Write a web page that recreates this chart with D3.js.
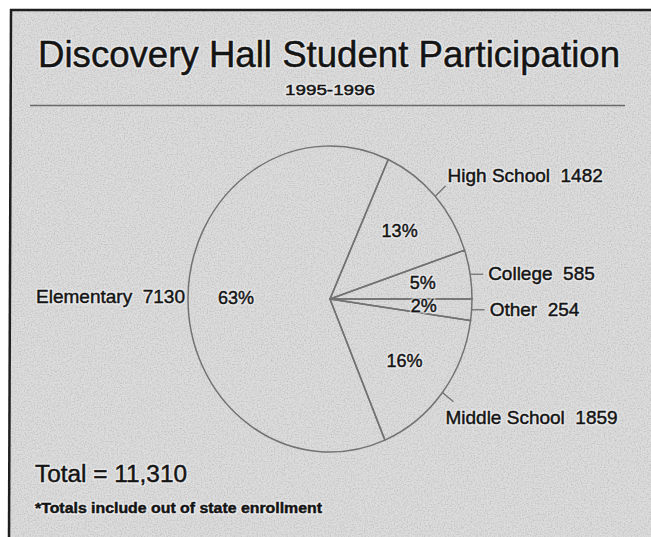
<!DOCTYPE html>
<html>
<head>
<meta charset="utf-8">
<script src="https://cdn.jsdelivr.net/npm/d3@7"></script>
<style>
  html, body { margin: 0; padding: 0; background: #fff; }
  svg { display: block; }
  text { font-family: "Liberation Sans", Arial, Helvetica, sans-serif; }
  .halo { fill: none; stroke: #f4f4f4; stroke-width: 3.5px; stroke-opacity: 0.55; stroke-linejoin: round; }
  .ink { fill: #141414; stroke: #141414; stroke-width: 0.45px; }
</style>
</head>
<body>
<svg id="chart" width="651" height="537"></svg>
<script>
// data
var categories = ["Other", "Middle School", "Elementary", "High School", "College"];
var students   = [254, 1859, 7130, 1482, 585];
var percents   = ["2%", "16%", "63%", "13%", "5%"];
var titleText = "Discovery Hall Student Participation";
var subtitleText = "1995-1996";
var totalText = "Total = 11,310";
var footnoteText = "*Totals include out of state enrollment";

// label placement per slice (leader style + text offset from the leader end)
var labelLayout = {
	"Other":         {leader: "flat",   dx: 5,  dy: 6,  anchor: "start"},
	"Middle School": {leader: "radial", dx: -8, dy: 22, anchor: "start"},
	"Elementary":    {leader: "none",   dx: -3, dy: 6,  anchor: "end"},
	"High School":   {leader: "radial", dx: 2,  dy: -4, anchor: "start"},
	"College":       {leader: "flat",   dx: 5,  dy: 6,  anchor: "start"}
};

var svg = d3.select("#chart"),
    width = +svg.attr("width"),
    height = +svg.attr("height");

// scanned paper look
var defs = svg.append("defs");
var grain = defs.append("filter").attr("id", "grain")
	.attr("x", 0).attr("y", 0).attr("width", "100%").attr("height", "100%");
grain.append("feTurbulence").attr("type", "fractalNoise")
	.attr("baseFrequency", 0.7).attr("numOctaves", 2).attr("seed", 7).attr("result", "n");
grain.append("feColorMatrix").attr("type", "matrix")
	.attr("values", "0 0 0 0 0  0 0 0 0 0  0 0 0 0 0  0 0 0 -1.2 0.7");

svg.append("rect").attr("x", 10).attr("y", 10)
	.attr("width", width - 10).attr("height", height - 10)
	.attr("fill", "#dcdcdc");
svg.append("rect").attr("x", 10).attr("y", 10)
	.attr("width", width - 10).attr("height", height - 10)
	.attr("filter", "url(#grain)").attr("opacity", 0.22);

// frame (only top and left survive in the scan)
svg.append("line").attr("x1", 10).attr("y1", 10).attr("x2", width).attr("y2", 10)
	.attr("stroke", "#1e1e1e").attr("stroke-width", 2.5);
svg.append("line").attr("x1", 11).attr("y1", 9).attr("x2", 9).attr("y2", height)
	.attr("stroke", "#1e1e1e").attr("stroke-width", 2.5);

// text drawn twice: a pale halo from the scan, then the ink
function label(parent, x, y, str, size, opts) {
	opts = opts || {};
	["halo", "ink"].forEach(function(cls) {
		var t = parent.append("text").attr("class", cls)
			.attr("x", x).attr("y", y)
			.attr("text-anchor", opts.anchor || "start")
			.attr("xml:space", "preserve")
			.style("font-size", size + "px")
			.text(str);
		if (opts.bold) t.style("font-weight", "bold");
		if (opts.len) t.attr("textLength", opts.len).attr("lengthAdjust", "spacingAndGlyphs");
	});
}

// titles
label(svg, 38, 67, titleText, 36, {len: 582});
label(svg, 330, 95, subtitleText, 15, {anchor: "middle", len: 90});
svg.append("line").attr("x1", 30).attr("y1", 105.5).attr("x2", 625).attr("y2", 105.5)
	.attr("stroke", "#6a6a6a").attr("stroke-width", 1.5);

// pie
var cx = 330, cy = 299, radius = 142, yStretch = 153 / 142;
var pie = d3.pie().sort(null)
	.startAngle(Math.PI / 2).endAngle(Math.PI / 2 + 2 * Math.PI);
var arcs = pie(students);
var arc = d3.arc().innerRadius(0).outerRadius(radius);
var pctArc = d3.arc().innerRadius(94).outerRadius(94);

var g = svg.append("g")
	.attr("transform", "translate(" + cx + "," + cy + ") scale(1," + yStretch + ")");
g.selectAll("path")
	.data(arcs)
	.enter().append("path")
	.attr("d", arc)
	.attr("fill", "none")
	.attr("stroke", "#727272")
	.attr("stroke-width", 1.5)
	.attr("vector-effect", "non-scaling-stroke");

function pt(angle, r) {
	return [cx + r * Math.sin(angle), cy - r * Math.cos(angle) * yStretch];
}

// percent labels
var pctG = svg.append("g");
arcs.forEach(function(d, i) {
	var c = pctArc.centroid(d);
	label(pctG, cx + c[0], cy + c[1] * yStretch + 6, percents[i], 18, {anchor: "middle"});
});

// outer labels with leaders
var outer = svg.append("g");
arcs.forEach(function(d, i) {
	var lay = labelLayout[categories[i]];
	var mid = (d.startAngle + d.endAngle) / 2;
	var start = pt(mid, radius), end;
	if (lay.leader === "radial") {
		end = pt(mid, radius + 14);
	} else if (lay.leader === "flat") {
		end = [start[0] + 13, start[1]];
	} else {
		end = start;
	}
	if (lay.leader !== "none") {
		outer.append("line")
			.attr("x1", start[0]).attr("y1", start[1])
			.attr("x2", end[0]).attr("y2", end[1])
			.attr("stroke", "#727272").attr("stroke-width", 1.3);
	}
	label(outer, end[0] + lay.dx, end[1] + lay.dy, categories[i] + "  " + students[i], 19, {anchor: lay.anchor});
});

// total + footnote
label(svg, 35, 482, totalText, 23, {len: 152});
label(svg, 35, 513, footnoteText, 14, {bold: true, len: 287});
</script>
</body>
</html>
